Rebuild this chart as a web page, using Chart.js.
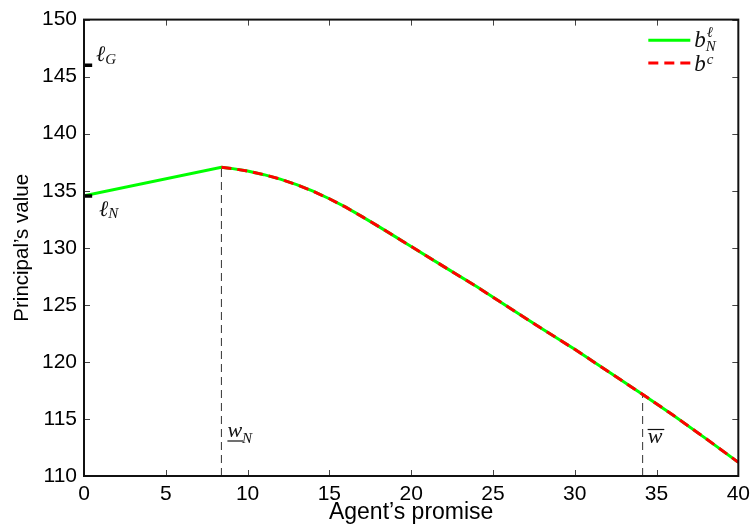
<!DOCTYPE html>
<html><head><meta charset="utf-8">
<script src="https://cdn.jsdelivr.net/npm/chart.js@4.4.1/dist/chart.umd.min.js"></script>
<style>html,body{margin:0;padding:0;background:#fff;}</style>
</head><body>
<canvas id="c" width="756" height="526" style="display:block;width:756px;height:526px"></canvas>
<script>
// ---- data ----
const promiseBNl = [0, 8.4, 9, 10, 11, 12, 13, 14, 15, 16, 17, 18, 19, 20, 22, 24, 26, 28, 30, 32, 34, 36, 38, 40];
const valueBNl   = [134.55, 137.05, 136.96, 136.73, 136.41, 136.02, 135.53, 134.96, 134.3, 133.56, 132.73, 131.88, 131.0, 130.12, 128.35, 126.6, 124.75, 122.9, 121.1, 119.2, 117.3, 115.35, 113.3, 111.2];
const promiseBc  = [8.4, 9, 10, 11, 12, 13, 14, 15, 16, 17, 18, 19, 20, 22, 24, 26, 28, 30, 32, 34, 36, 38, 40];
const valueBc    = [137.05, 136.96, 136.73, 136.41, 136.02, 135.53, 134.96, 134.3, 133.56, 132.73, 131.88, 131.0, 130.12, 128.35, 126.6, 124.75, 122.9, 121.1, 119.2, 117.3, 115.35, 113.3, 111.2];
const xTicks = [0, 5, 10, 15, 20, 25, 30, 35, 40];
const yTicks = [110, 115, 120, 125, 130, 135, 140, 145, 150];
const wN = 8.4;          // underline w_N
const wBar = 34.15;      // overline w
const wBarValue = 117.15;
const ellG = 146.0;
const ellN = 134.55;
const markX = [0, 0.5];
const yMin = 110, yMax = 150, xMin = 0, xMax = 40;

const pts = (xs, ys) => xs.map((v, i) => ({x: v, y: ys[i]}));
const vline = (xv, y0, y1) => [{x: xv, y: y0}, {x: xv, y: y1}];

const SERIF = '"Liberation Serif", "DejaVu Serif", serif';
const SANS = '"Liberation Sans", Arial, Helvetica, sans-serif';

function math(ctx, x, y, parts) {
  let cx = x;
  parts.forEach(p => {
    ctx.font = 'italic ' + p.size + 'px ' + SERIF;
    ctx.fillText(p.t, cx, y + (p.dy || 0));
    cx = cx + ctx.measureText(p.t).width;
  });
  return cx;
}

const decor = {
  id: 'decor',
  afterDatasetsDraw(chart) {
    const {ctx, chartArea: a, scales: {x, y}} = chart;
    ctx.save();
    // inward ticks
    ctx.strokeStyle = '#444'; ctx.lineWidth = 1;
    const tl = 6;
    xTicks.forEach(v => {
      const px = Math.round(x.getPixelForValue(v)) + 0.5;
      ctx.beginPath();
      ctx.moveTo(px, a.bottom); ctx.lineTo(px, a.bottom - tl);
      ctx.moveTo(px, a.top); ctx.lineTo(px, a.top + tl);
      ctx.stroke();
    });
    yTicks.forEach(v => {
      const py = Math.round(y.getPixelForValue(v)) + 0.5;
      ctx.beginPath();
      ctx.moveTo(a.left, py); ctx.lineTo(a.left + tl, py);
      ctx.moveTo(a.right, py); ctx.lineTo(a.right - tl, py);
      ctx.stroke();
    });
    // box
    ctx.strokeStyle = '#111'; ctx.lineWidth = 2;
    ctx.strokeRect(a.left, a.top, a.right - a.left, a.bottom - a.top);

    // annotations
    ctx.fillStyle = '#111'; ctx.textBaseline = 'alphabetic'; ctx.textAlign = 'left';
    const x0 = x.getPixelForValue(0);
    const yG = y.getPixelForValue(ellG);
    const yN = y.getPixelForValue(ellN);
    math(ctx, x0 + 12, yG - 4, [{t: 'ℓ', size: 22}, {t: 'G', size: 15, dy: 3}]);
    math(ctx, x0 + 15, yN + 20, [{t: 'ℓ', size: 22}, {t: 'N', size: 15, dy: 2}]);

    const xwN = x.getPixelForValue(wN);
    ctx.font = 'italic 22px ' + SERIF;
    const ww = ctx.measureText('w').width;
    math(ctx, xwN + 6, a.bottom - 39, [{t: 'w', size: 22}, {t: 'N', size: 15, dy: 6}]);
    ctx.lineWidth = 1.2; ctx.strokeStyle = '#111';
    ctx.beginPath(); ctx.moveTo(xwN + 6, a.bottom - 35); ctx.lineTo(xwN + 6 + ww + 1, a.bottom - 35); ctx.stroke();

    const xwB = x.getPixelForValue(wBar);
    math(ctx, xwB + 5, a.bottom - 33, [{t: 'w', size: 22}]);
    ctx.beginPath(); ctx.moveTo(xwB + 5, a.bottom - 46.5); ctx.lineTo(xwB + 5 + ww + 2, a.bottom - 46.5); ctx.stroke();

    // legend
    const lx0 = a.right - 90, lx1 = a.right - 48;
    ctx.lineWidth = 3;
    ctx.strokeStyle = chart.data.datasets[0].borderColor;
    ctx.beginPath(); ctx.moveTo(lx0, a.top + 20.7); ctx.lineTo(lx1, a.top + 20.7); ctx.stroke();
    ctx.strokeStyle = chart.data.datasets[1].borderColor;
    ctx.setLineDash(chart.data.datasets[1].borderDash);
    ctx.beginPath(); ctx.moveTo(lx0, a.top + 43.3); ctx.lineTo(lx1, a.top + 43.3); ctx.stroke();
    ctx.setLineDash([]);
    ctx.fillStyle = '#111';
    const bx = lx1 + 4;
    ctx.font = 'italic 23px ' + SERIF;
    ctx.fillText('b', bx, a.top + 27.5);
    const bw = ctx.measureText('b').width;
    ctx.font = 'italic 15px ' + SERIF;
    ctx.fillText('ℓ', bx + bw + 1, a.top + 17);
    ctx.fillText('N', bx + bw, a.top + 31);
    ctx.font = 'italic 23px ' + SERIF;
    ctx.fillText('b', bx, a.top + 51);
    ctx.font = 'italic 15px ' + SERIF;
    ctx.fillText('c', bx + bw + 1, a.top + 44.5);
    ctx.restore();
  }
};

new Chart(document.getElementById('c'), {
  type: 'line',
  data: {
    datasets: [
      {label: 'bNl', data: pts(promiseBNl, valueBNl), borderColor: '#00ff00', borderWidth: 3, pointRadius: 0, tension: 0, order: 2},
      {label: 'bc', data: pts(promiseBc, valueBc), borderColor: '#ff0000', borderWidth: 3, borderDash: [10, 6], pointRadius: 0, tension: 0, order: 1},
      {label: 'wN', data: vline(wN, yMin, valueBc[0]), borderColor: '#333', borderWidth: 1, borderDash: [8, 5], pointRadius: 0, order: 3},
      {label: 'wBar', data: vline(wBar, yMin, wBarValue), borderColor: '#333', borderWidth: 1, borderDash: [8, 5], pointRadius: 0, order: 3},
      {label: 'ellG', data: pts(markX, [ellG, ellG]), borderColor: '#000', borderWidth: 3.5, pointRadius: 0, order: 0},
      {label: 'ellN', data: pts(markX, [ellN, ellN]), borderColor: '#000', borderWidth: 3.5, pointRadius: 0, order: 0}
    ]
  },
  options: {
    responsive: false,
    animation: false,
    devicePixelRatio: 1,
    layout: {padding: {top: 16, right: 15, left: 0, bottom: 0}},
    plugins: {legend: {display: false}, tooltip: {enabled: false}},
    scales: {
      x: {
        type: 'linear', min: xMin, max: xMax,
        afterBuildTicks: s => { s.ticks = xTicks.map(v => ({value: v})); },
        afterFit: s => { s.height = 50; },
        grid: {display: false, drawTicks: false},
        border: {display: false},
        ticks: {color: '#000', padding: 6, font: {family: SANS, size: 21}, maxRotation: 0},
        title: {display: true, text: 'Agent’s promise', color: '#000', font: {family: SANS, size: 23}, padding: {top: 0, bottom: 0}}
      },
      y: {
        type: 'linear', min: yMin, max: yMax,
        afterBuildTicks: s => { s.ticks = yTicks.map(v => ({value: v})); },
        afterFit: s => { s.width = 84; },
        grid: {display: false, drawTicks: false},
        border: {display: false},
        ticks: {color: '#000', padding: 7, font: {family: SANS, size: 21}},
        title: {display: true, text: 'Principal’s value', color: '#000', font: {family: SANS, size: 20.5}, padding: {top: 10, bottom: 0}}
      }
    }
  },
  plugins: [decor]
});
</script>
</body></html>
